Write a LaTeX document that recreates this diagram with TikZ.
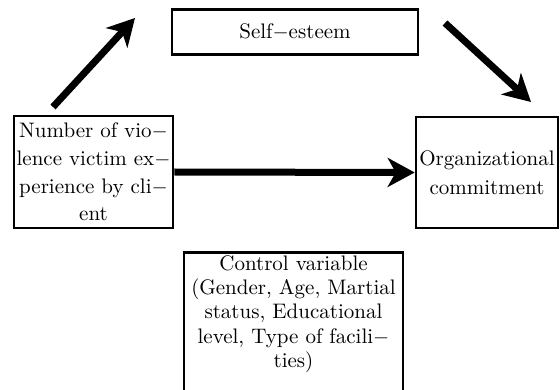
\documentclass[tikz,border=0pt]{standalone}
\usepackage{fontspec}
\setmainfont{lmroman10-regular}[Extension=.otf]
\usetikzlibrary{arrows.meta, positioning}

\begin{document}
\begin{tikzpicture}[x=1pt, y=-1pt,
    box/.style={draw, line width=2.6pt, inner xsep=0pt, inner ysep=3pt, align=center},
    bigarrow/.style={line width=7pt, -{Stealth[length=27pt, width=29pt, inset=8pt]}}]

          % --- frame: keeps the 560 x 390 proportions ---
          \useasboundingbox (0,0) rectangle (560,390);

          % --- Mediator (top) ---
          \node[box, text width=246pt, minimum height=45pt,
                font=\fontsize{21}{27}\selectfont] (esteem) at (295,32) {Self$-$esteem};

          % --- Independent variable (left) ---
          \node[box, text width=159pt, minimum height=112pt,
                font=\fontsize{21}{27.6}\selectfont] (victim) at (93.5,172)
            {Number of vio$-$\\lence victim ex$-$\\perience by cli$-$\\ent};

          % --- Dependent variable (right) ---
          \node[box, text width=142pt, minimum height=111pt,
                font=\fontsize{21}{29}\selectfont] (commit) at (487,172.5)
            {Organizational\\commitment};

          % --- Control variables (bottom, runs off the page) ---
          \node[box, anchor=north, text width=219pt,
                font=\fontsize{21}{24.3}\selectfont] (control) at (293.5,251)
            {Control variable\\(Gender, Age, Martial\\status, Educational\\level, Type of facili$-$\\ties)\rule[-40pt]{0pt}{0pt}};

          % free ends of the two slanted arrows
          \coordinate (riseTail) at (53,107);
          \coordinate (riseTip) at (135,18);
          \coordinate (fallTail) at (445,23);
          \coordinate (fallTip) at (531,102);

          % --- Paths ---
          \draw[bigarrow] (riseTail) -- (riseTip);
          \draw[bigarrow] (fallTail) -- (fallTip);
          \draw[bigarrow] (victim.east) -- (commit.west);

        \end{tikzpicture}
\end{document}
